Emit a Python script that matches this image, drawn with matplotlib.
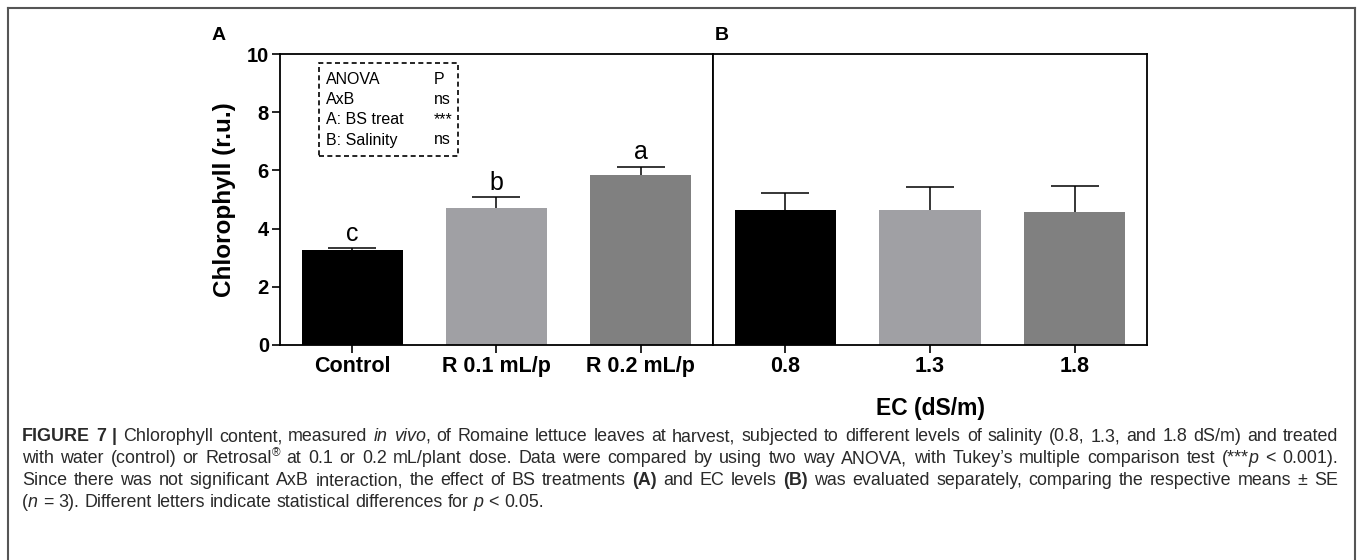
import matplotlib
matplotlib.use('Agg')
import matplotlib.pyplot as plt
from matplotlib.lines import Line2D
from matplotlib.patches import Rectangle

plt.rcParams['font.family'] = ['Liberation Sans', 'DejaVu Sans']

# data
bs_labels = ['Control', 'R 0.1 mL/p', 'R 0.2 mL/p']
bs_means = [3.25, 4.70, 5.85]
bs_se = [0.07, 0.38, 0.28]
bs_letters = ['c', 'b', 'a']

ec_labels = ['0.8', '1.3', '1.8']
ec_means = [4.65, 4.65, 4.57]
ec_se = [0.57, 0.77, 0.90]

bar_colors = ['#000000', '#a0a0a4', '#808080']

anova_rows = [('ANOVA', 'P'), ('AxB', 'ns'), ('A: BS treat', '***'), ('B: Salinity', 'ns')]

W, H = 1358, 560
fig = plt.figure(figsize=(W / 100, H / 100), dpi=100)


def fx(px):
    return px / W


def fy(py):
    return 1 - py / H


x0, xm, x1, ytop, ybot = 280, 713, 1147, 54, 345
axA = fig.add_axes([fx(x0), fy(ybot), fx(xm - x0), (ybot - ytop) / H])
axB = fig.add_axes([fx(xm), fy(ybot), fx(x1 - xm), (ybot - ytop) / H])

for ax, labels, means, se in [(axA, bs_labels, bs_means, bs_se),
                              (axB, ec_labels, ec_means, ec_se)]:
    xs = range(len(labels))
    ax.bar(xs, means, width=0.7, color=bar_colors, zorder=2)
    eb = ax.errorbar(xs, means, yerr=[[0] * len(se), se], fmt='none', ecolor='black',
                     elinewidth=1.1, capsize=17, capthick=1.1, zorder=3)
    eb[1][0].set_visible(False)  # only the upper cap
    ax.set_xlim(-0.5, 2.5)
    ax.set_ylim(0, 10)
    ax.set_xticks(list(xs))
    ax.set_xticklabels(labels, fontsize=15.5, fontweight='bold')
    ax.tick_params(axis='x', length=6, width=1.2, pad=2)
    for s in ax.spines.values():
        s.set_linewidth(1.3)

axA.set_yticks([0, 2, 4, 6, 8, 10])
axA.set_yticklabels(['0', '2', '4', '6', '8', '10'], fontsize=14.5, fontweight='bold')
axA.tick_params(axis='y', length=6, width=1.2, pad=2)
axA.set_ylabel('Chlorophyll (r.u.)', fontsize=17.5, fontweight='bold', labelpad=8)
axB.set_yticks([])
axB.set_xlabel('EC (dS/m)', fontsize=16.5, fontweight='bold', labelpad=14)

for i, (m, s, let) in enumerate(zip(bs_means, bs_se, bs_letters)):
    axA.text(i, m + s + 0.08, let, ha='center', va='bottom', fontsize=18)

fig.text(fx(212), fy(36), 'A', fontsize=14, fontweight='bold', va='center')
fig.text(fx(715), fy(36), 'B', fontsize=14, fontweight='bold', va='center')

# ANOVA box
fig.add_artist(Rectangle((fx(319), fy(156)), fx(458 - 319), (156 - 63) / H,
                         transform=fig.transFigure, fill=False, ls=(0, (3, 2)),
                         lw=1.2, ec='black'))
for k, (a, b) in enumerate(anova_rows):
    yy = fy(80 + k * 20)
    fig.text(fx(326), yy, a, fontsize=11.5, va='center')
    fig.text(fx(434), yy, b, fontsize=11.5, va='center')

# outer frame
for xs_, ys_ in [([8, 8], [8, 570]), ([8, 1355], [8, 8]), ([1355, 1355], [8, 570])]:
    fig.add_artist(Line2D([fx(v) for v in xs_], [fy(v) for v in ys_],
                          transform=fig.transFigure, color='#555555', lw=1.5))

# caption: runs of styled text, lines 1-3 justified to the full width
cap_lines = [
    [('FIGURE 7 | ', 'bold'), ('Chlorophyll content, measured ', 'normal'), ('in vivo', 'italic'),
     (', of Romaine lettuce leaves at harvest, subjected to different levels of salinity (0.8, 1.3, and 1.8 dS/m) and treated', 'normal')],
    [('with water (control) or Retrosal', 'normal'), ('®', 'sup'),
     (' at 0.1 or 0.2 mL/plant dose. Data were compared by using two way ANOVA, with Tukey\u2019s multiple comparison test (***', 'normal'),
     ('p', 'italic'), (' < 0.001).', 'normal')],
    [('Since there was not significant AxB interaction, the effect of BS treatments ', 'normal'), ('(A)', 'bold'),
     (' and EC levels ', 'normal'), ('(B)', 'bold'),
     (' was evaluated separately, comparing the respective means \u00b1 SE', 'normal')],
    [('(', 'normal'), ('n', 'italic'), (' = 3). Different letters indicate statistical differences for ', 'normal'),
     ('p', 'italic'), (' < 0.05.', 'normal')],
]
cap_y = [441, 463, 485, 507]
cap_justify = [True, True, True, False]
cap_left, cap_right, cap_size = 22, 1338, 12.9
renderer = fig.canvas.get_renderer()


def cap_kw(sty):
    kw = dict(fontsize=cap_size, va='baseline', color='#2a2a2a')
    if sty == 'bold':
        kw['fontweight'] = 'bold'
    elif sty == 'italic':
        kw['fontstyle'] = 'italic'
    elif sty == 'sup':
        kw['fontsize'] = 8.5
    return kw


def measure(txt, sty):
    t = fig.text(0, 0, txt, **cap_kw(sty))
    w = t.get_window_extent(renderer).width
    t.remove()
    return w


space_w = measure('a a', 'normal') - measure('aa', 'normal')

for line, ypx, just in zip(cap_lines, cap_y, cap_justify):
    # split into tokens: (text, style, gap_before)
    tokens = []
    pending_gap = False
    for txt, sty in line:
        parts = txt.split(' ')
        for j, p in enumerate(parts):
            if j > 0:
                pending_gap = True
            if p == '':
                continue
            tokens.append((p, sty, pending_gap and len(tokens) > 0))
            pending_gap = False
    widths = [measure(p, s) for p, s, _ in tokens]
    n_gaps = sum(1 for _, _, g in tokens if g)
    natural = sum(widths) + n_gaps * space_w
    gap = space_w
    if just and n_gaps:
        gap = space_w + (cap_right - cap_left - natural) / n_gaps
    xpos = cap_left
    for (p, sty, g), w in zip(tokens, widths):
        if g:
            xpos += gap
        yy = fy(ypx - 7) if sty == 'sup' else fy(ypx)
        fig.text(fx(xpos), yy, p, **cap_kw(sty))
        xpos += w

fig.savefig('out.png', dpi=100)
